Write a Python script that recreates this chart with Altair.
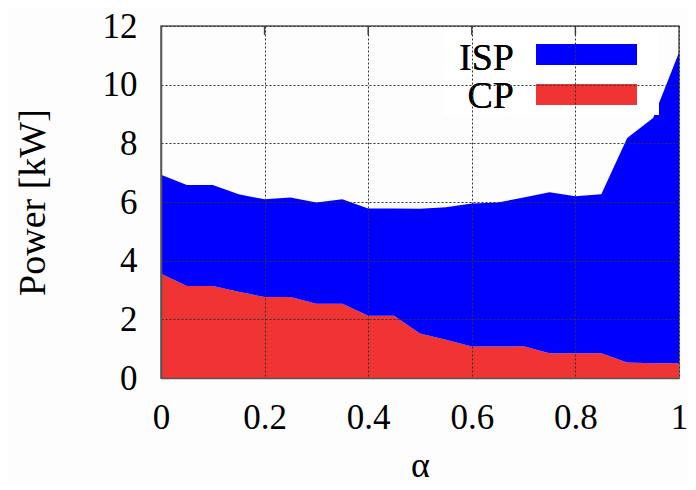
import altair as alt
import pandas as pd

alpha = [0.0, 0.05, 0.10, 0.15, 0.20, 0.25, 0.30, 0.35, 0.40, 0.45, 0.50,
         0.55, 0.60, 0.65, 0.70, 0.75, 0.80, 0.85, 0.90, 0.95, 1.0]
cp = [3.55, 3.14, 3.14, 2.94, 2.76, 2.76, 2.53, 2.53, 2.12, 2.12, 1.52,
      1.30, 1.07, 1.07, 1.08, 0.84, 0.84, 0.84, 0.53, 0.50, 0.50]
isp = [3.38, 3.44, 3.44, 3.32, 3.33, 3.39, 3.45, 3.56, 3.66, 3.66, 4.25,
       4.52, 4.88, 4.91, 5.07, 5.49, 5.36, 5.42, 7.65, 8.36, 10.60]
series = ["ISP", "CP"]
colors = ["#0000ff", "#f03434"]
x_ticks = [0, 0.2, 0.4, 0.6, 0.8, 1.0]
y_ticks = [0, 2, 4, 6, 8, 10, 12]

rows = []
for a, c, i in zip(alpha, cp, isp):
    rows.append({"alpha": a, "series": "CP", "value": c, "ord": 0})
    rows.append({"alpha": a, "series": "ISP", "value": i, "ord": 1})
df = pd.DataFrame(rows)

FONT = "Liberation Serif"
W, H = 518, 352

areas = alt.Chart(df).mark_area(opacity=1, strokeWidth=0).encode(
    x=alt.X("alpha:Q", scale=alt.Scale(domain=[0, 1], nice=False),
            axis=alt.Axis(values=x_ticks, format="~g", title="α",
                          grid=True, gridColor="#333", gridDash=[2, 2], gridWidth=1,
                          ticks=False, labelPadding=22, labelFontSize=35,
                          labelFont=FONT, titleFont=FONT,
                          labelColor="black", titleColor="black",
                          titleFontSize=36, titlePadding=41, titleBaseline="alphabetic",
                          titleFontWeight="normal",
                          domainColor="#555", domainWidth=1.5, zindex=1,
                          labelFlush=False)),
    y=alt.Y("value:Q", stack="zero", scale=alt.Scale(domain=[0, 12], nice=False),
            axis=alt.Axis(values=y_ticks, title="Power [kW]",
                          grid=True, gridColor="#333", gridDash=[2, 2], gridWidth=1,
                          ticks=False, labelPadding=24, labelFontSize=35,
                          labelFont=FONT, titleFont=FONT,
                          labelColor="black", titleColor="black",
                          titleFontSize=38, titlePadding=58, titleBaseline="alphabetic",
                          titleFontWeight="normal",
                          domainColor="#555", domainWidth=1.5, zindex=1,
                          labelFlush=False)),
    color=alt.Color("series:N", scale=alt.Scale(domain=series, range=colors), legend=None),
    order=alt.Order("ord:Q"),
)

leg_df = pd.DataFrame({"name": series, "color": colors})
box = alt.Chart(leg_df).mark_rect(color="white").encode(
    x=alt.value(283), x2=alt.value(498), y=alt.value(1), y2=alt.value(89))
isp_sw = alt.Chart(leg_df).mark_rect(color=colors[0]).encode(
    x=alt.value(375), x2=alt.value(476), y=alt.value(18), y2=alt.value(39))
cp_sw = alt.Chart(leg_df).mark_rect(color=colors[1]).encode(
    x=alt.value(375), x2=alt.value(476), y=alt.value(58), y2=alt.value(79))
isp_tx = alt.Chart(leg_df).mark_text(text=series[0], align="right", baseline="alphabetic",
                                     font=FONT, fontSize=38, color="black").encode(
    x=alt.value(353), y=alt.value(44))
cp_tx = alt.Chart(leg_df).mark_text(text=series[1], align="right", baseline="alphabetic",
                                    font=FONT, fontSize=38, color="black").encode(
    x=alt.value(353), y=alt.value(82))

tick_df = pd.DataFrame({"t": x_ticks[1:-1]})
top_ticks = alt.Chart(tick_df).mark_rule(color="#444", strokeWidth=1.5).encode(
    x=alt.X("t:Q"), y=alt.value(0), y2=alt.value(9))

chart = alt.layer(areas, box, isp_sw, cp_sw, isp_tx, cp_tx, top_ticks).properties(
    width=W, height=H,
    autosize=alt.AutoSizeParams(type="none"),
    padding={"left": 153, "top": 18, "right": 9, "bottom": 104},
    background="#fdfdfd",
).configure_view(stroke="#555", strokeWidth=1.5).configure_axis(
    labelColor="black", titleColor="black"
)

chart.save("out.html", embed_options={"renderer": "svg", "actions": False})
